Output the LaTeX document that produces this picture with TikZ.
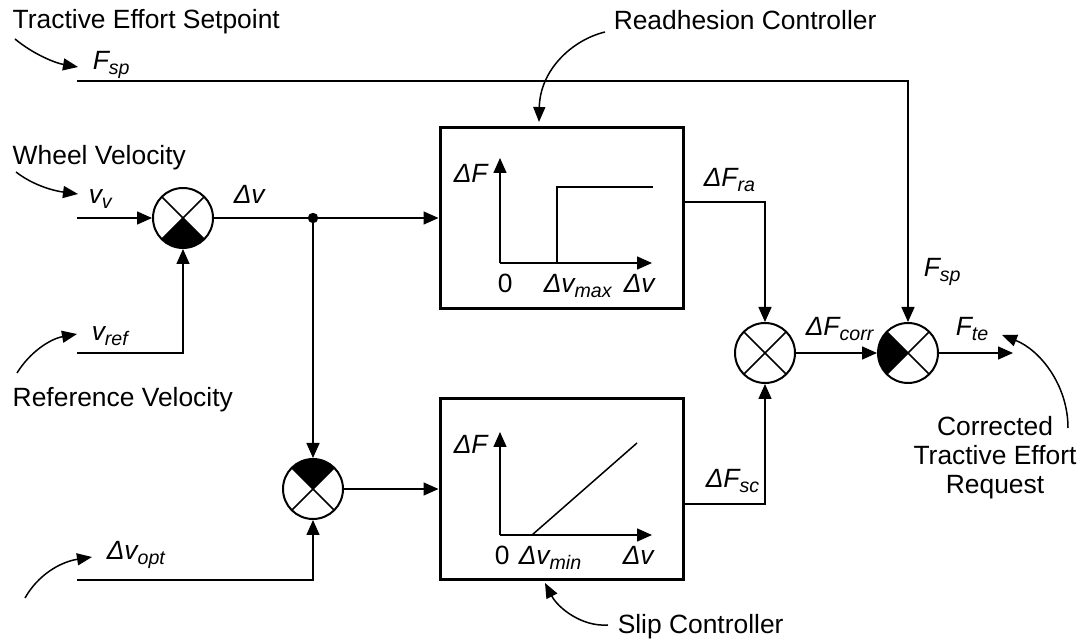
\documentclass[tikz,border=0pt]{standalone}
\usepackage{fontspec}
\setmainfont{Liberation Sans}
\usetikzlibrary{arrows.meta}
\newcommand{\subtx}[1]{\raisebox{-0.35ex}{\fontsize{9.8}{10}\selectfont #1}}
\newcommand{\lbl}[2]{\textit{#1\subtx{#2}}}

\begin{document}
\begin{tikzpicture}[x=0.5pt,y=-0.5pt,font=\fontsize{13.2}{15.8}\selectfont,line width=0.75pt,
  >={Triangle[length=7.5pt,width=6.5pt]},
  txt/.style={inner sep=0pt,anchor=base west},
  block/.style={draw,line width=1.5pt,minimum width=121.5pt,minimum height=90.5pt,inner sep=0pt},
  sumj/.style 2 args={circle,draw,line width=1pt,minimum size=30pt,inner sep=0pt,
    path picture={\fill (path picture bounding box.center)--(path picture bounding box.#1)--(path picture bounding box.#2)--cycle;
      \draw[line width=0.75pt] (path picture bounding box.north west)--(path picture bounding box.south east)
        (path picture bounding box.south west)--(path picture bounding box.north east);}},
  note/.style={->,>={Triangle[length=7.5pt,width=6pt]}}]
\useasboundingbox (0,0) rectangle (1088,641);

% summing junctions and controllers
\node[sumj={south west}{south east}] (s1) at (183,218) {};
\node[sumj={north west}{north east}] (s3) at (313,489) {};
\node[sumj={center}{center}] (s2) at (765,353) {};
\node[sumj={north west}{south west}] (s4) at (908,353) {};
\node[block] (ra) at (561.5,218) {};
\node[block] (sc) at (561.5,489) {};

% inputs, output, branch point
\coordinate (fspin) at (77,81);
\coordinate (vvin) at (77,218);
\coordinate (vrefin) at (77,353);
\coordinate (optin) at (77,580);
\coordinate (out) at (1013,353);
\coordinate (br) at (313,218);
\fill (br) circle (2.6pt);

\draw[->] (vvin) -- (s1);
\draw[->] (vrefin) -| (s1);
\draw[->] (s1) -- (ra);
\draw[->] (br) -- (s3);
\draw[->] (optin) -| (s3);
\draw[->] (s3) -- (sc);
\draw[->] ([yshift=8pt]ra.east) -| (s2);
\draw[->] ([yshift=-7.5pt]sc.east) -| (s2);
\draw[->] (s2) -- (s4);
\draw[->] (fspin) -| (s4);
\draw[->] (s4) -- (out);

% characteristics
\draw[->] (500,263) -- (500,158);
\draw[->] (500,263) -- (652,263);
\draw (557,263) -- (557,187) -- (653,187);
\draw[->] (500,535) -- (500,432);
\draw[->] (500,535) -- (652,535);
\draw (532,535) -- (637,443);

% signal labels
\foreach \n/\x/\y/\t in {fspa/92/70/{\lbl{F}{sp}}, vv/88/204/{\lbl{v}{v}}, dv/233/204/{\textit{Δv}},
    vref/91/341/{\lbl{v}{ref}}, dvopt/106/560/{\lbl{Δv}{opt}}, dfra/703/187/{\lbl{ΔF}{ra}},
    dfsc/705/488/{\lbl{ΔF}{sc}}, dfcorr/805/336/{\lbl{ΔF}{corr}}, fspb/923/277/{\lbl{F}{sp}},
    fte/955/336/{\lbl{F}{te}},
    raf/453/183/{\textit{ΔF}}, razero/497/293/{0}, ramax/543/293/{\lbl{Δv}{max}}, radv/623/293/{\textit{Δv}},
    scf/453/454/{\textit{ΔF}}, sczero/494/565/{0}, scmin/518/565/{\lbl{Δv}{min}}, scdv/622/565/{\textit{Δv}}}
  \node[txt] (\n) at (\x,\y) {\t};

% descriptions
\node[txt] (tes) at (12,29) {Tractive Effort Setpoint};
\node[txt] (wv) at (12,165) {Wheel Velocity};
\node[txt] (rv) at (12,407) {Reference Velocity};
\node[txt] (rc) at (613,30) {Readhesion Controller};
\node[txt] (slc) at (617,633) {Slip Controller};
\node[inner sep=0pt,anchor=north,align=center,font=\fontsize{13.2}{14.3}\selectfont] (ctr) at (995,416)
  {Corrected\\Tractive Effort\\Request};

\coordinate (tesa) at (15,39);   \coordinate (tesb) at (78,67);
\coordinate (wva) at (16,172);   \coordinate (wvb) at (78,194);
\coordinate (rva) at (17,373);   \coordinate (rvb) at (77,334);
\coordinate (opta) at (25,598);  \coordinate (optb) at (92,557);
\coordinate (rca) at (605,32);   \coordinate (rcb) at (539,122);
\coordinate (slca) at (608,625); \coordinate (slcb) at (545,583);
\coordinate (ctra) at (1068,428); \coordinate (ctrb) at (1002,335);
\draw[note] (tesa) .. controls (33,54) and (55,63) .. (tesb);
\draw[note] (wva) .. controls (34,186) and (55,191) .. (wvb);
\draw[note] (rva) .. controls (30,352) and (50,339) .. (rvb);
\draw[note] (opta) .. controls (38,575) and (60,562) .. (optb);
\draw[note] (rca) .. controls (572,40) and (540,70) .. (rcb);
\draw[note] (slca) .. controls (582,627) and (558,608) .. (slcb);
\draw[note] (ctra) .. controls (1068,385) and (1040,350) .. (ctrb);
\end{tikzpicture}
\end{document}
